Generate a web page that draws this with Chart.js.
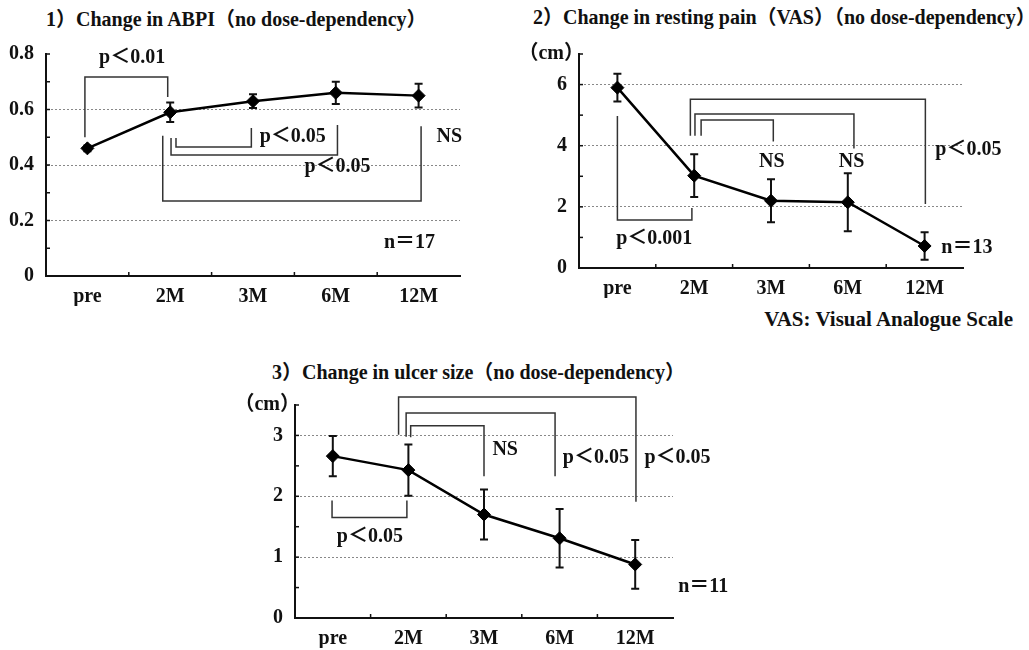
<!DOCTYPE html>
<html>
<head>
<meta charset="utf-8">
<script src="https://cdn.jsdelivr.net/npm/chart.js@4/dist/chart.umd.min.js"></script>
<style>
  body { margin: 0; background: #fff; width: 1029px; height: 650px; position: relative; overflow: hidden; }
  canvas { position: absolute; }
  .ttl { position: absolute; white-space: nowrap; font: bold 20px 'Liberation Serif', 'Noto Sans CJK JP', serif; color: #111; line-height: 20px; }
</style>
</head>
<body>
<div class="ttl" style="left:46px; top:9px">1）Change in ABPI（no dose-dependency）</div>
<div class="ttl" style="left:533px; top:7px">2）Change in resting pain（VAS）（no dose-dependency）</div>
<div class="ttl" style="left:272px; top:362px">3）Change in ulcer size（no dose-dependency）</div>
<div class="ttl" style="right:16px; top:309px; font-size:21px">VAS: Visual Analogue Scale</div>

<canvas id="c1" width="480" height="276" style="left:0; top:30px"></canvas>
<canvas id="c2" width="500" height="268" style="left:520px; top:30px"></canvas>
<canvas id="c3" width="520" height="268" style="left:230px; top:380px"></canvas>

<script>
const categories = ["pre", "2M", "3M", "6M", "12M"];

// 1) ABPI
const abpiMean = [0.46, 0.59, 0.63, 0.66, 0.65];
const abpiErr = [0.01, 0.035, 0.025, 0.04, 0.043];
const abpiLabels = [0, 0.2, 0.4, 0.6, 0.8];
const abpiGrid = [0.2, 0.4, 0.6];

// 2) resting pain (VAS, cm)
const painMean = [5.9, 3.02, 2.2, 2.15, 0.72];
const painErr = [0.45, 0.7, 0.7, 0.95, 0.45];
const painLabels = [0, 2, 4, 6];
const painGrid = [2, 4, 6];

// 3) ulcer size (cm)
const ulcerMean = [2.66, 2.43, 1.7, 1.31, 0.88];
const ulcerErr = [0.33, 0.42, 0.41, 0.48, 0.4];
const ulcerLabels = [0, 1, 2, 3];
const ulcerGrid = [1, 2, 3];

// significance brackets: x in category index, y = bar level, legs = other ends
const abpiBrackets = [
  { x: [-0.03, 0.97], y: 0.717, legs: [0.5, 0.645] },
  { x: [1.07, 1.98], y: 0.465, legs: [0.497, 0.533] },
  { x: [1.01, 3.02], y: 0.436, legs: [0.497, 0.544] },
  { x: [0.91, 4.03], y: 0.27, legs: [0.505, 0.54] },
];
const abpiNotes = [
  ["p＜0.01", 0.54, 0.786], ["p＜0.05", 2.48, 0.5], ["p＜0.05", 3.02, 0.393],
  ["NS", 4.37, 0.5], ["n＝17", 3.89, 0.119],
];
const painBrackets = [
  { x: [0, 0.97], y: 1.57, legs: [4.97, 1.96] },
  { x: [1.09, 2.03], y: 4.84, legs: [4.33, 4.14] },
  { x: [1.01, 3.08], y: 5.04, legs: [4.33, 3.91] },
  { x: [0.95, 4.01], y: 5.52, legs: [4.33, 2.09] },
];
const painNotes = [
  ["p＜0.001", 0.48, 0.96], ["NS", 2.01, 3.46], ["NS", 3.05, 3.46],
  ["p＜0.05", 4.57, 3.88], ["n＝13", 4.55, 0.67],
];
const ulcerBrackets = [
  { x: [-0.01, 0.98], y: 1.65, legs: [1.93, 1.93] },
  { x: [1.03, 2.0], y: 3.16, legs: [2.97, 2.33] },
  { x: [0.97, 2.94], y: 3.37, legs: [2.98, 2.33] },
  { x: [0.87, 4.01], y: 3.63, legs: [3.01, 1.91] },
];
const ulcerNotes = [
  ["NS", 2.28, 2.77], ["p＜0.05", 3.48, 2.63], ["p＜0.05", 4.56, 2.63],
  ["p＜0.05", 0.49, 1.33], ["n＝11", 4.9, 0.52],
];

const FONT = "'Liberation Serif', 'Noto Sans CJK JP', serif";
const near = (a, list) => list.some((v) => Math.abs(v - a) < 1e-6);

function extras(err, brackets, notes, unit) {
  return {
    id: "extras",
    beforeDatasetsDraw(chart) {
      const { ctx } = chart;
      const x = chart.scales.x, y = chart.scales.y;
      const area = chart.chartArea;
      ctx.save();
      ctx.strokeStyle = "#111";
      ctx.lineWidth = 1.5;
      // inward minor ticks
      y.ticks.forEach((t) => {
        const py = y.getPixelForValue(t.value);
        ctx.beginPath();
        ctx.moveTo(area.left, py);
        ctx.lineTo(area.left + 4, py);
        ctx.stroke();
      });
      for (let i = 0; i < categories.length - 1; i++) {
        const px = x.getPixelForValue(i + 0.5);
        ctx.beginPath();
        ctx.moveTo(px, area.bottom);
        ctx.lineTo(px, area.bottom - 4);
        ctx.stroke();
      }
      // error bars
      const vals = chart.data.datasets[0].data;
      ctx.lineWidth = 2;
      vals.forEach((v, i) => {
        const px = x.getPixelForValue(i);
        const top = y.getPixelForValue(v + err[i]);
        const bot = y.getPixelForValue(v - err[i]);
        ctx.beginPath();
        ctx.moveTo(px, top); ctx.lineTo(px, bot);
        ctx.moveTo(px - 4, top); ctx.lineTo(px + 4, top);
        ctx.moveTo(px - 4, bot); ctx.lineTo(px + 4, bot);
        ctx.stroke();
      });
      ctx.restore();
    },
    afterDraw(chart) {
      const { ctx } = chart;
      const x = chart.scales.x, y = chart.scales.y;
      ctx.save();
      ctx.strokeStyle = "#333";
      ctx.lineWidth = 1.5;
      brackets.forEach((b) => {
        const x1 = x.getPixelForValue(b.x[0]), x2 = x.getPixelForValue(b.x[1]);
        ctx.beginPath();
        ctx.moveTo(x1, y.getPixelForValue(b.legs[0]));
        ctx.lineTo(x1, y.getPixelForValue(b.y));
        ctx.lineTo(x2, y.getPixelForValue(b.y));
        ctx.lineTo(x2, y.getPixelForValue(b.legs[1]));
        ctx.stroke();
      });
      ctx.fillStyle = "#111";
      ctx.font = "bold 20px " + FONT;
      ctx.textAlign = "center";
      ctx.textBaseline = "middle";
      notes.forEach(([t, xi, yv]) => {
        ctx.fillText(t, x.getPixelForValue(xi), y.getPixelForValue(yv));
      });
      if (unit) {
        // fullwidth parens carry their own side bearing
        ctx.textAlign = "right";
        ctx.fillText(unit, chart.chartArea.left + 5, chart.chartArea.top);
      }
      ctx.restore();
    },
  };
}

function makeChart(id, mean, err, max, step, labels, grid, yWidth, pad, brackets, notes, unit) {
  const ctx = document.getElementById(id).getContext("2d");
  return new Chart(ctx, {
    type: "line",
    data: {
      labels: categories,
      datasets: [
        {
          data: mean,
          borderColor: "#000",
          borderWidth: 2.5,
          pointStyle: "rectRot",
          pointRadius: 6.5,
          pointBackgroundColor: "#000",
          pointBorderColor: "#000",
          pointBorderWidth: 1,
          tension: 0,
        },
      ],
    },
    options: {
      responsive: false,
      animation: false,
      layout: { padding: pad },
      plugins: { legend: { display: false }, tooltip: { enabled: false } },
      scales: {
        x: {
          offset: true,
          grid: { display: false, drawTicks: false },
          border: { display: true, color: "#111", width: 2 },
          ticks: { color: "#111", padding: 9, font: { family: FONT, size: 20, weight: "bold" } },
          afterFit: (s) => { s.height = 30; },
        },
        y: {
          min: 0,
          max: max,
          grid: {
            drawTicks: false,
            lineWidth: 1,
            color: (c) => (near(c.tick.value, grid) ? "#888" : "rgba(0,0,0,0)"),
          },
          border: { display: true, color: "#111", width: 2, dash: [2, 2] },
          ticks: {
            stepSize: step,
            color: "#111",
            padding: 12,
            font: { family: FONT, size: 20, weight: "bold" },
            callback: (v) => (near(v, labels) ? String(v) : ""),
          },
          afterFit: (s) => { s.width = yWidth; },
        },
      },
    },
    plugins: [extras(err, brackets, notes, unit)],
  });
}

makeChart("c1", abpiMean, abpiErr, 0.8, 0.1, abpiLabels, abpiGrid, 46,
  { left: 0, top: 24, right: 20, bottom: 0 }, abpiBrackets, abpiNotes, null);
makeChart("c2", painMean, painErr, 7, 1, painLabels, painGrid, 59,
  { left: 0, top: 20, right: 57, bottom: 0 }, painBrackets, painNotes, "（cm）");
makeChart("c3", ulcerMean, ulcerErr, 3.5, 0.5, ulcerLabels, ulcerGrid, 65,
  { left: 0, top: 25, right: 77, bottom: 0 }, ulcerBrackets, ulcerNotes, "（cm）");
</script>
</body>
</html>
